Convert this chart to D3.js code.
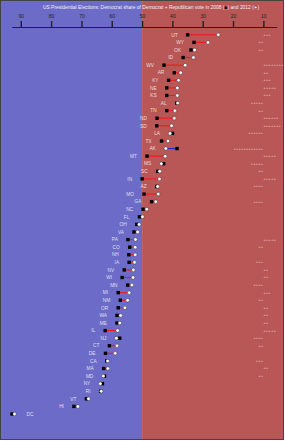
<!DOCTYPE html>
<html>
<head>
<meta charset="utf-8">
<script src="https://cdn.jsdelivr.net/npm/d3@7"></script>
<style>
  body { margin: 0; background: #fff; }
  svg { display: block; font-family: "Liberation Sans", Arial, sans-serif; }
</style>
</head>
<body>
<div id="chart"></div>
<script>
// states, top to bottom as in the chart
const states = ["UT","WY","OK","ID","WV","AR","KY","NE","KS","AL","TN","ND","SD","LA","TX","AK","MT","MS","SC","IN",
  "AZ","MO","GA","NC","FL","OH","VA","PA","CO","NH","IA","NV","WI","MN","MI","NM","OR","WA","ME","IL",
  "NJ","CT","DE","CA","MA","MD","NY","RI","VT","HI","DC"];
// democrat share of dem + rep vote, 2008
const dem2008 = [35.5,33.4,34.4,37.0,43.3,39.9,41.8,42.4,42.4,39.1,42.4,45.6,45.7,40.5,44.1,39.0,48.9,43.4,45.4,50.5,
  45.7,49.9,47.4,50.2,51.4,52.3,53.2,55.2,54.6,54.9,54.8,56.4,57.1,55.3,58.4,57.7,58.4,58.8,58.8,62.7,
  57.9,61.3,62.6,62.2,63.2,62.9,63.6,64.2,68.9,73.0,93.4];
// same for 2012
const dem2012 = [25.4,28.8,33.2,33.6,36.3,37.8,38.5,38.9,38.9,38.8,39.7,39.9,40.8,41.3,42.0,42.7,42.9,44.2,44.7,44.8,
  45.4,45.2,46.0,49.0,50.4,51.5,52.0,52.7,52.8,52.8,53.0,53.4,53.5,53.9,54.8,55.3,56.2,57.6,57.9,58.6,
  59.0,58.8,59.4,61.9,61.8,63.3,64.3,64.0,68.2,71.7,92.6];
// the little marker strings on the right (+ = goes right, - = goes left, 0 = none)
const notes = [3,-2,-2,0,8,2,3,5,3,-5,-2,6,7,-6,0,-12,5,-5,-2,5,
  -4,0,-4,0,0,0,0,5,-2,0,-3,2,2,-4,3,-2,2,2,2,5,
  -4,-2,0,-3,2,-2,0,0,0,0,0];
const tickValues = [90,80,70,60,50,40,30,20,10];

const width = 285, height = 441;
const svg = d3.select("#chart").append("svg")
  .attr("width", width)
  .attr("height", height);

const x = d3.scaleLinear().domain([93, 5.6]).range([11.7, 276.7]);
const y = d3.scalePoint().domain(states).range([34.8, 414]);
const off = 1.6; // marks sit a little right of the value

// backgrounds
svg.append("rect").attr("x", 0.5).attr("y", 0.5)
  .attr("width", x(50) - 0.5).attr("height", height - 2)
  .attr("fill", "#6c6cc8");
svg.append("rect").attr("x", x(50)).attr("y", 0.5)
  .attr("width", width - 1.5 - x(50)).attr("height", height - 2)
  .attr("fill", "#b95757");
svg.append("rect").attr("x", 0.5).attr("y", 0.5)
  .attr("width", width - 2).attr("height", height - 2)
  .attr("fill", "none").attr("stroke", "#444").attr("stroke-width", 1);

// title
const title = svg.append("text")
  .attr("x", 151).attr("y", 8.6)
  .attr("text-anchor", "middle")
  .attr("font-size", 4.9)
  .attr("fill", "#f2eef6");
title.append("tspan").text("US Presidential Elections: Democrat share of Democrat + Republican vote in 2008 (");
title.append("tspan").attr("fill", "#000").text("■");
title.append("tspan").text(") and 2012 (");
title.append("tspan").attr("fill", "#fff").attr("stroke", "#000").attr("stroke-width", 0.3).attr("font-size", 6).text("●");
title.append("tspan").text(")");

// axis
const axis = svg.append("g")
  .attr("transform", "translate(0,27)")
  .call(d3.axisTop(x).tickValues(tickValues).tickSize(6).tickSizeOuter(0).tickPadding(3));
axis.select(".domain").attr("stroke", "#222").attr("stroke-width", 1);
axis.selectAll(".tick line").attr("stroke", "#222").attr("stroke-width", 1.4);
axis.selectAll(".tick text")
  .attr("fill", "#222")
  .attr("font-size", 5)
  .attr("font-family", "Liberation Sans, Arial, sans-serif");

const rows = states.map((s, i) => ({ s, a: dem2008[i], b: dem2012[i], n: notes[i] }));

const g = svg.append("g");

// connecting lines
g.selectAll("line.chg")
  .data(rows)
  .join("line")
  .attr("class", "chg")
  .attr("x1", d => x(d.a) + off)
  .attr("x2", d => x(d.b) + off)
  .attr("y1", d => y(d.s))
  .attr("y2", d => y(d.s))
  .attr("stroke", d => d.b > d.a ? "#2a22d8" : "#ee1a1a")
  .attr("stroke-width", 1.1);

// 2008 squares
const sq = 3.4;
g.selectAll("rect.y08")
  .data(rows)
  .join("rect")
  .attr("class", "y08")
  .attr("x", d => x(d.a) + off - sq / 2)
  .attr("y", d => y(d.s) - sq / 2)
  .attr("width", sq).attr("height", sq)
  .attr("fill", "#000");

// 2012 circles
g.selectAll("circle.y12")
  .data(rows)
  .join("circle")
  .attr("class", "y12")
  .attr("cx", d => x(d.b) + off)
  .attr("cy", d => y(d.s))
  .attr("r", 1.75)
  .attr("fill", "#fff")
  .attr("stroke", "#222")
  .attr("stroke-width", 0.4);

// state labels, left of the marks unless there is no room
g.selectAll("text.lbl")
  .data(rows)
  .join("text")
  .attr("class", "lbl")
  .each(function(d) {
    const lo = x(Math.max(d.a, d.b)) + off;
    const hi = x(Math.min(d.a, d.b)) + off;
    const t = d3.select(this);
    if (lo - 10 - 8 < 12) {
      t.attr("x", hi + 12).attr("text-anchor", "start");
    } else {
      t.attr("x", lo - 10).attr("text-anchor", "end");
    }
  })
  .attr("y", d => y(d.s) + 1.7)
  .attr("font-size", 4.8)
  .attr("fill", "#fff")
  .attr("fill-opacity", 0.78)
  .text(d => d.s);

// marker strings on the right
g.selectAll("text.note")
  .data(rows.filter(d => d.n !== 0))
  .join("text")
  .attr("class", "note")
  .attr("x", x(10))
  .attr("y", d => y(d.s) + 1)
  .attr("text-anchor", d => d.n > 0 ? "start" : "end")
  .attr("font-size", 3)
  .attr("font-family", "DejaVu Sans, sans-serif")
  .attr("fill", "#f6d8d8")
  .text(d => "+".repeat(Math.abs(d.n)));
</script>
</body>
</html>
